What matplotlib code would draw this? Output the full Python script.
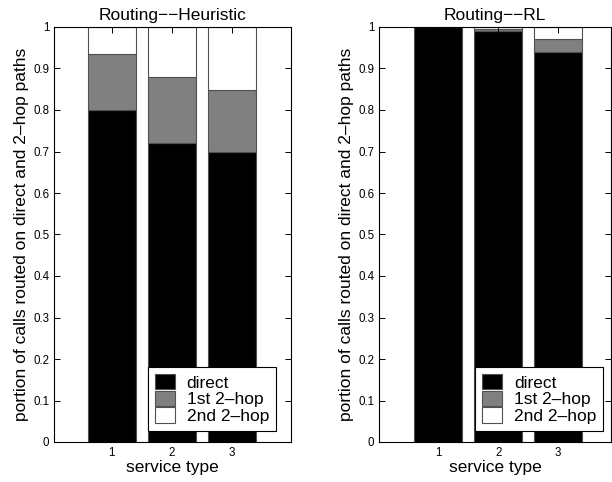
import numpy as np
import matplotlib
matplotlib.use("Agg")
import matplotlib.pyplot as plt
from matplotlib.patches import Patch

plt.rcParams['font.family'] = ['Liberation Sans', 'DejaVu Sans']

# data
service_types = [1, 2, 3]
heur_direct = [0.80, 0.72, 0.70]
heur_hop1 = [0.135, 0.16, 0.148]
heur_hop2 = [0.065, 0.12, 0.152]
rl_direct = [1.00, 0.99, 0.94]
rl_hop1 = [0.0, 0.006, 0.03]
rl_hop2 = [0.0, 0.004, 0.03]
series_names = ['direct', '1st 2\u2013hop', '2nd 2\u2013hop']
series_colors = ['black', '#808080', 'white']
ytick_vals = np.round(np.arange(0, 1.01, 0.1), 1)
ytick_labels = ['0'] + [f'{v:.1f}' for v in ytick_vals[1:-1]] + ['1']

W, H = 612, 482
fig = plt.figure(figsize=(W / 100, H / 100), dpi=100)

def draw(rect, xlim, direct, hop1, hop2, title, leg_x):
    ax = fig.add_axes(rect)
    x = np.array(service_types)
    bottoms = np.zeros(len(x))
    for vals, col in zip([direct, hop1, hop2], series_colors):
        ax.bar(x, vals, width=0.8, bottom=bottoms, color=col,
               edgecolor='#505050', linewidth=0.8)
        bottoms += np.array(vals)
    ax.set_xlim(*xlim)
    ax.set_ylim(0, 1)
    ax.set_xticks(service_types)
    ax.set_yticks(ytick_vals)
    ax.set_yticklabels(ytick_labels)
    ax.tick_params(direction='in', top=True, right=True, labelsize=8.3,
                   length=4, width=0.7)
    for s in ax.spines.values():
        s.set_linewidth(0.8)
    ax.set_title(title, fontsize=12.5, pad=5)
    ax.set_xlabel('service type', fontsize=12.5, labelpad=1)
    ax.set_ylabel('portion of calls routed on direct and 2\u2013hop paths',
                  fontsize=12.5, labelpad=3)
    handles = [Patch(facecolor=c, edgecolor='#505050', linewidth=0.8)
               for c in series_colors]
    leg = ax.legend(handles, series_names, loc='lower right',
                    bbox_to_anchor=(leg_x, 0.0265), borderaxespad=0,
                    fontsize=12.5, handlelength=1.15, handleheight=1.0,
                    labelspacing=0.0, handletextpad=0.7, borderpad=0.4,
                    fancybox=False, framealpha=1, edgecolor='black')
    leg.get_frame().set_linewidth(0.8)
    return ax

draw([54 / W, 40 / H, 237 / W, 415 / H], (0.04, 3.99),
     heur_direct, heur_hop1, heur_hop2, 'Routing\u2212\u2212Heuristic', 0.937)
draw([379 / W, 40 / H, 232 / W, 415 / H], (0.01, 3.88),
     rl_direct, rl_hop1, rl_hop2, 'Routing\u2212\u2212RL', 0.966)

fig.savefig('out.png', dpi=100, facecolor='white')
